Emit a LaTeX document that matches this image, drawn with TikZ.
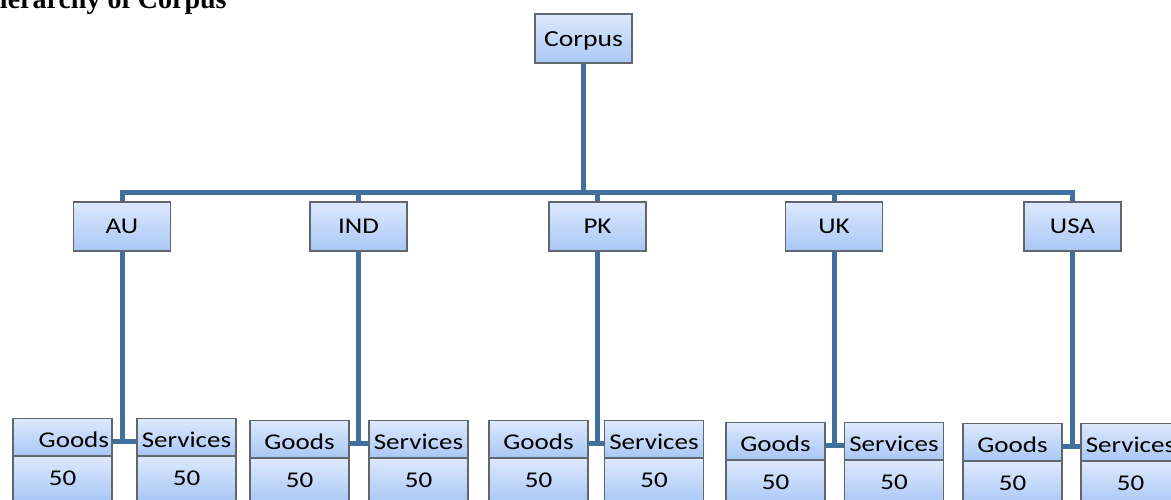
\documentclass[tikz,border=0pt]{standalone}
\usepackage{fontspec}
\newfontfamily\boxfont[FakeStretch=1.2]{Carlito}
\newfontfamily\titlefont{Liberation Serif}
\definecolor{linkblue}{HTML}{41709F}
\definecolor{boxtop}{HTML}{DDE8FC}
\definecolor{boxbot}{HTML}{A9C8F6}
\definecolor{boxline}{HTML}{5F666E}
\tikzset{
  lvbox/.style={rectangle, draw=boxline, line width=1.1pt, top color=boxtop, bottom color=boxbot,
    inner sep=0pt, font=\boxfont\fontsize{22.5}{24}\selectfont, text=black},
  topbox/.style={lvbox, minimum width=97pt, minimum height=49pt},
  cellhead/.style={lvbox, minimum width=99pt, minimum height=37pt, text height=21pt, text depth=0pt},
  cellnum/.style={lvbox, minimum width=99pt, minimum height=44pt},
  link/.style={draw=linkblue, line width=5pt}
}
\begin{document}
\begin{tikzpicture}[x=1pt,y=-1pt]
\useasboundingbox (0,0) rectangle (1171,499);
\node[anchor=base west, inner sep=0pt, font=\titlefont\bfseries\fontsize{28}{30}\selectfont] (title) at (-22,8.5) {Hierarchy of Corpus};

\coordinate (bus) at (583.5,192);

\node[topbox, text height=16pt, text depth=0pt, font=\boxfont\fontsize{23}{24}\selectfont] (corpus) at (583.5,38.5) {Corpus};
\node[topbox] (au)  at (122,226.5) {AU};
\node[topbox] (ind) at (358.5,226.5) {IND};
\node[topbox] (pk)  at (597.5,226.5) {PK};
\node[topbox] (uk)  at (834,226.5) {UK};
\node[topbox] (usa) at (1072.5,226.5) {USA};

% bottom cells
\node[cellhead, anchor=north, text width=93pt, align=right] (aug) at (62.5,418) {Goods};
\node[cellnum, anchor=north] (augn) at (aug.south) {50};
\node[cellhead, anchor=north] (aus) at (186.5,418) {Services};
\node[cellnum, anchor=north] (ausn) at (aus.south) {50};

\node[cellhead, anchor=north] (indg) at (299.5,420) {Goods};
\node[cellnum, anchor=north] (indgn) at (indg.south) {50};
\node[cellhead, anchor=north] (inds) at (418.5,420) {Services};
\node[cellnum, anchor=north] (indsn) at (inds.south) {50};

\node[cellhead, anchor=north] (pkg) at (538.5,420) {Goods};
\node[cellnum, anchor=north] (pkgn) at (pkg.south) {50};
\node[cellhead, anchor=north] (pks) at (654,420) {Services};
\node[cellnum, anchor=north] (pksn) at (pks.south) {50};

\node[cellhead, anchor=north] (ukg) at (775.5,422) {Goods};
\node[cellnum, anchor=north] (ukgn) at (ukg.south) {50};
\node[cellhead, anchor=north] (uks) at (894,422) {Services};
\node[cellnum, anchor=north] (uksn) at (uks.south) {50};

\node[cellhead, anchor=north] (usag) at (1012.5,423) {Goods};
\node[cellnum, anchor=north] (usagn) at (usag.south) {50};
\node[cellhead, anchor=north] (usas) at (1130.5,423) {Services};
\node[cellnum, anchor=north] (usasn) at (usas.south) {50};

% tree links
\draw[link] (corpus.south) -- (bus);
\draw[link] (au.north) |- (bus) -| (usa.north);
\draw[link] (bus -| ind.north) -- (ind.north);
\draw[link] (bus -| pk.north) -- (pk.north);
\draw[link] (bus -| uk.north) -- (uk.north);

\foreach \p/\g/\s in {au/aug/aus, ind/indg/inds, pk/pkg/pks, uk/ukg/uks, usa/usag/usas}{
  \coordinate (\g-j) at ([yshift=-4pt]\g.east);
  \coordinate (\s-j) at ([yshift=-4pt]\s.west);
  \draw[link] (\p.south) -- (\p.south |- \g-j);
  \draw[link] (\g-j) -- (\s-j);
}
\end{tikzpicture}
\end{document}
